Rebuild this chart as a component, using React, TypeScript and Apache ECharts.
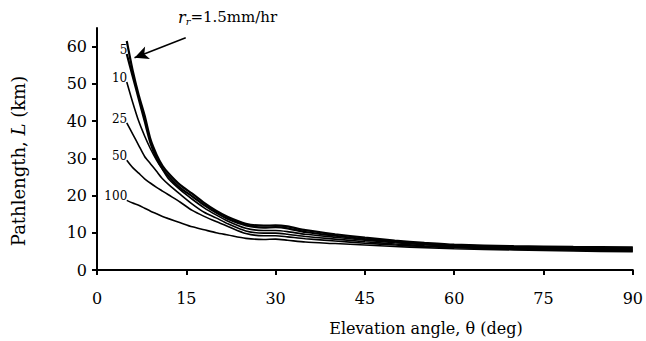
import React, { useEffect, useRef } from "react";
import * as echarts from "echarts";

const thetas = [5, 6, 7, 8, 9, 10, 11, 12, 14, 16, 18, 20, 22, 25, 28, 30, 32, 35, 40, 45, 50, 55, 60, 70, 80, 90];
const path1p5 = [61.5, 53.5, 47, 41.5, 35, 31, 28, 26, 22.8, 20.5, 18.0, 15.9, 14.2, 12.4, 11.9, 12.0, 11.7, 10.7, 9.6, 8.7, 7.9, 7.3, 6.8, 6.4, 6.2, 6.1];
const path5 = [58, 52, 46, 40, 34, 30, 27.2, 25.2, 22, 19.8, 17.4, 15.4, 13.7, 12.0, 11.4, 11.5, 11.2, 10.2, 9.2, 8.3, 7.6, 7.0, 6.6, 6.2, 5.9, 5.8];
const path10 = [50.5, 45, 40, 36, 32.5, 29.5, 27, 24.5, 21.5, 19.0, 16.7, 14.8, 13.1, 11.2, 10.6, 10.6, 10.3, 9.6, 8.8, 8.0, 7.3, 6.8, 6.4, 6.0, 5.7, 5.5];
const path25 = [39.5, 36.5, 33.5, 30.5, 28.5, 26.5, 24.5, 23, 20.3, 17.7, 15.5, 14, 12.4, 10.5, 9.9, 9.9, 9.6, 9.0, 8.3, 7.6, 7.0, 6.5, 6.2, 5.8, 5.5, 5.3];
const path50 = [29.5, 27.5, 26, 24.5, 23.3, 22.2, 21.2, 20.2, 18.2, 16, 14.4, 13, 11.7, 9.8, 9.2, 9.2, 8.9, 8.4, 7.8, 7.2, 6.7, 6.3, 6.0, 5.6, 5.3, 5.1];
const path100 = [18.7, 18, 17.4, 16.6, 15.8, 15.1, 14.4, 13.8, 12.7, 11.6, 10.8, 10.0, 9.4, 8.5, 8.2, 8.3, 8.0, 7.5, 7.1, 6.7, 6.3, 6.0, 5.7, 5.4, 5.1, 4.9];

const rateLabels = ["1.5", "5", "10", "25", "50", "100"];
const seriesValues = [path1p5, path5, path10, path25, path50, path100];
const lineWidths = [2.2, 2.2, 1.6, 1.6, 1.6, 1.6];

const yTicks = [0, 10, 20, 30, 40, 50, 60];
const xTicks = [0, 15, 30, 45, 60, 75, 90];

const arrowFrom = [14.9, 62.4];
const arrowTo = [6.3, 57.0];

const FONT = "'DejaVu Serif', serif";

export default function App() {
  const ref = useRef<HTMLDivElement>(null);
  useEffect(() => {
    if (!ref.current) return;
    document.body.style.margin = "0";
    const chart = echarts.init(ref.current, null, { renderer: "svg" });
    const series: any[] = seriesValues.map((vals, si) => ({
      type: "line",
      name: rateLabels[si],
      showSymbol: false,
      symbol: "none",
      smooth: 0.25,
      lineStyle: { color: "#000", width: lineWidths[si] },
      data: vals.map((v, i) => [thetas[i], v]),
      markPoint:
        si > 0
          ? {
              silent: true,
              symbol: "circle",
              symbolSize: 1,
              itemStyle: { color: "rgba(0,0,0,0)" },
              label: {
                show: true,
                position: "left",
                distance: 0,
                offset: [1, -4],
                formatter: rateLabels[si],
                fontFamily: FONT,
                fontSize: 12,
                color: "#000",
              },
              data: [{ coord: [thetas[0], vals[0]] }],
            }
          : undefined,
      markLine:
        si === 0
          ? {
              silent: true,
              symbol: ["none", "arrow"],
              symbolSize: [10, 14],
              label: { show: false },
              lineStyle: { color: "#000", width: 1.5, type: "solid" },
              data: [[{ coord: arrowFrom }, { coord: arrowTo }]],
            }
          : undefined,
    }));

    chart.setOption({
      animation: false,
      backgroundColor: "#fff",
      grid: { left: 97, right: 10, top: 28, bottom: 69 },
      xAxis: {
        type: "value",
        min: 0,
        max: 90,
        interval: 15,
        splitLine: { show: false },
        axisLine: { lineStyle: { color: "#000", width: 2 } },
        axisTick: { show: true, length: 5, lineStyle: { color: "#000", width: 2 }, customValues: xTicks },
        axisLabel: { color: "#000", fontFamily: FONT, fontSize: 16, margin: 20, customValues: xTicks },
        name: "Elevation angle, θ (deg)",
        nameLocation: "middle",
        nameGap: 50,
        nameTextStyle: { color: "#000", fontFamily: FONT, fontSize: 16, padding: [0, 0, 0, 122] },
      },
      yAxis: {
        type: "value",
        min: 0,
        max: 65,
        interval: 10,
        splitLine: { show: false },
        axisLine: { show: true, lineStyle: { color: "#000", width: 2 } },
        axisTick: { show: true, length: 5, lineStyle: { color: "#000", width: 2 }, customValues: yTicks },
        axisLabel: { color: "#000", fontFamily: FONT, fontSize: 16, margin: 10, customValues: yTicks },
        name: "{n|Pathlength, }{i|L}{n| (km)}",
        nameLocation: "middle",
        nameGap: 70,
        nameTextStyle: {
          color: "#000",
          fontFamily: FONT,
          fontSize: 18,
          padding: [0, 24, 0, 0],
          rich: {
            n: { fontFamily: FONT, fontSize: 18, color: "#000" },
            i: { fontFamily: FONT, fontSize: 18, fontStyle: "italic", color: "#000" },
          },
        },
      },
      graphic: [
        {
          type: "text",
          x: 178,
          y: 8,
          style: {
            text: "{i|r}{s|r}{n|=1.5mm/hr}",
            textVerticalAlign: "top",
            rich: {
              i: { fontFamily: FONT, fontSize: 16, fontStyle: "italic", fill: "#000" },
              s: { fontFamily: FONT, fontSize: 10, fontStyle: "italic", fill: "#000", padding: [8, 0, 0, 0] },
              n: { fontFamily: FONT, fontSize: 15, fill: "#000" },
            },
          },
        },
      ],
      series,
    });
    return () => chart.dispose();
  }, []);
  return <div ref={ref} style={{ width: 646, height: 341 }} />;
}
